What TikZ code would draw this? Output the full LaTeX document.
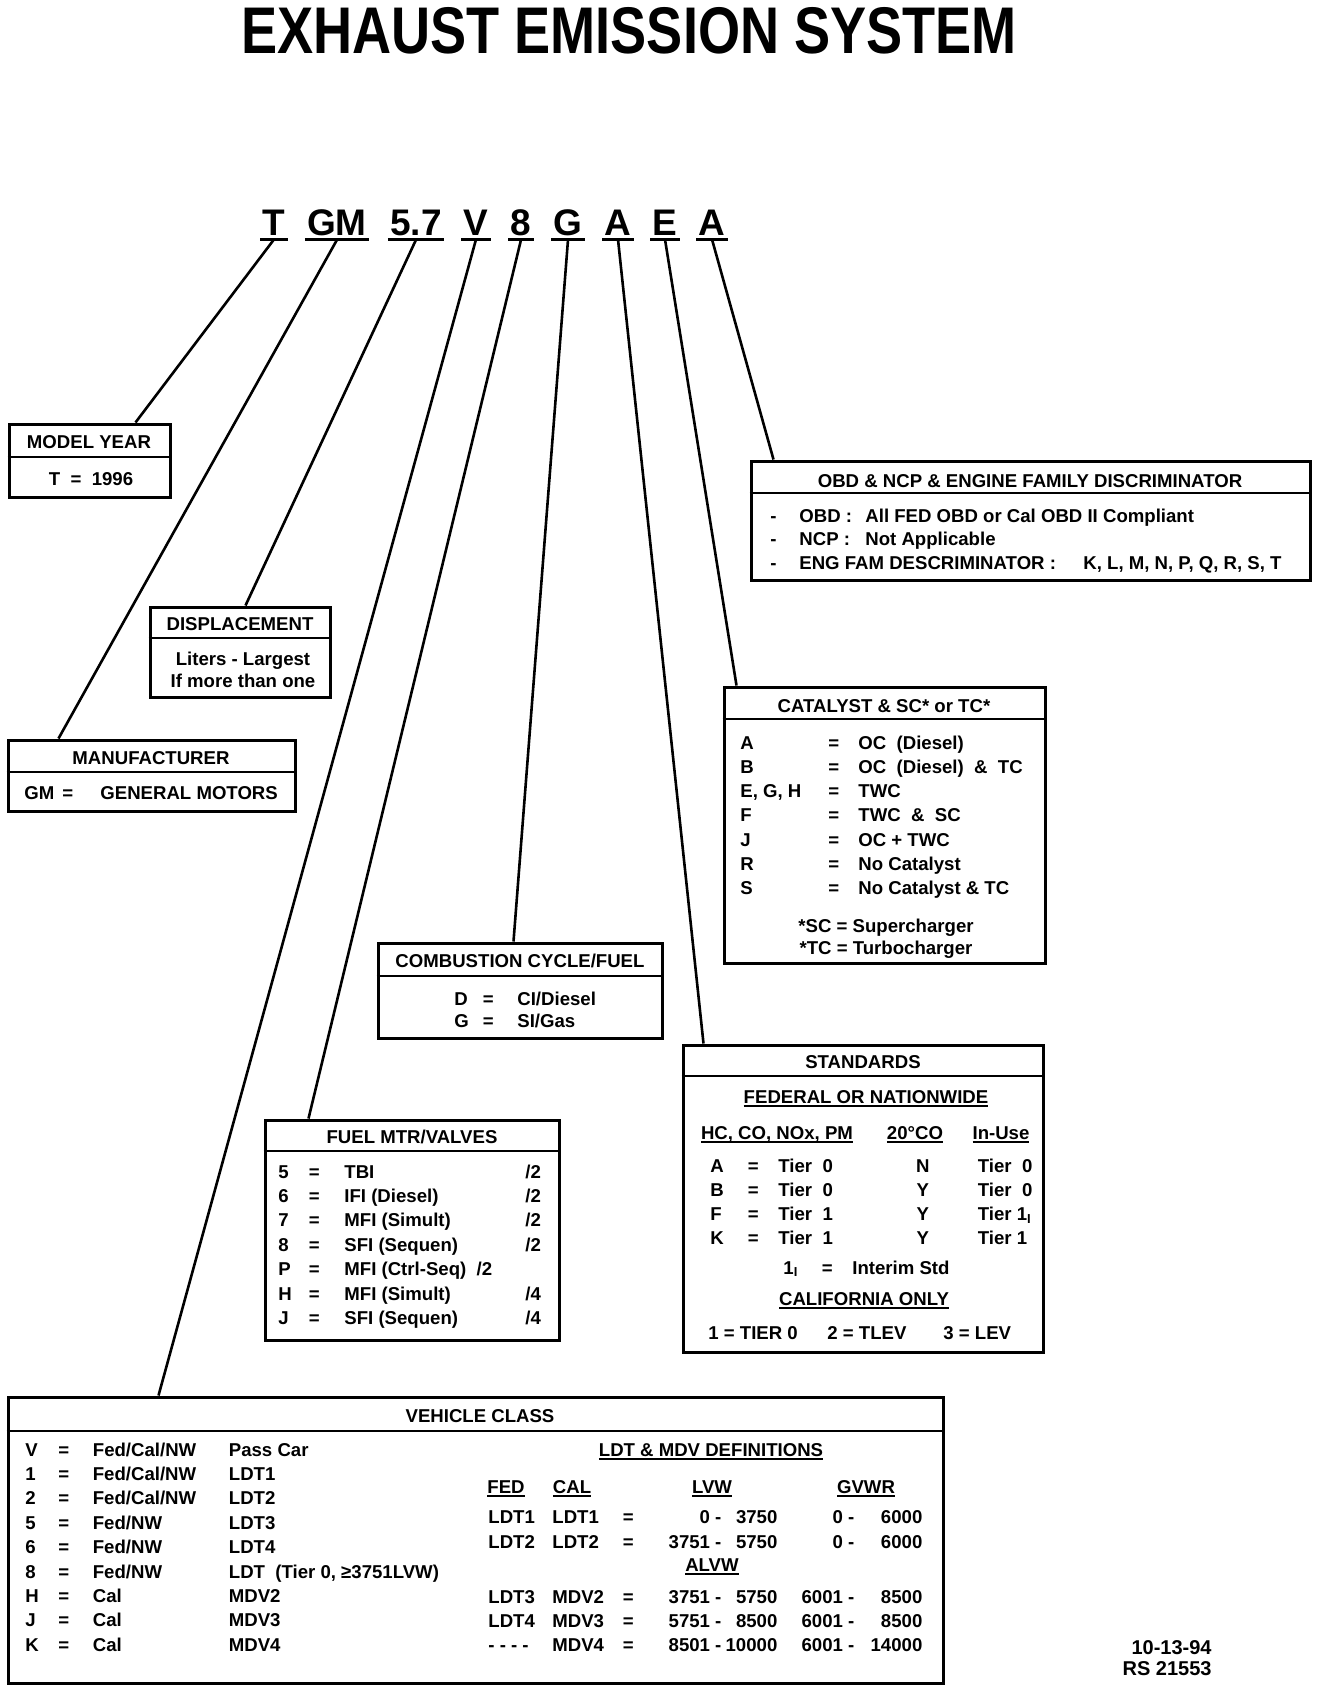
\documentclass[tikz,border=0pt]{standalone}
\usepackage{fontspec}
\setmainfont{Liberation Sans}
\usepackage{graphicx}
\usepackage{array}
\usetikzlibrary{calc, fit}

\setlength{\tabcolsep}{0pt}
\newcolumntype{R}[1]{>{\raggedleft\arraybackslash}p{#1}}
\newcommand{\ulbox}[1]{\setbox0=\hbox{#1}\rlap{\rule[-2pt]{\wd0}{1pt}}\box0}

\begin{document}
\begin{tikzpicture}[
  x=0.5pt, y=-0.5pt,
  every node/.style={font=\fontsize{9.3}{12.15}\selectfont\bfseries, inner sep=0pt},
  %% ── Box styles ──────────────────────────────────────────────────────────
  panel/.style={draw, line width=1.5pt, inner sep=0pt},
  head/.style={anchor=base},
  body/.style={anchor=base west},
  rows/.style={font=\fontsize{9.3}{#1}\selectfont\bfseries},
  %% ── Line styles ─────────────────────────────────────────────────────────
  rule/.style={line width=1pt},
  lead/.style={line width=1.3pt},
  uline/.style={line width=1.5pt},
  %% ── Text styles ─────────────────────────────────────────────────────────
  title/.style={font=\fontsize{33}{36}\selectfont\bfseries},
  code/.style={font=\fontsize{18.5}{22}\selectfont\bfseries,
    anchor=base, inner xsep=1pt, inner ysep=2pt},
]

\useasboundingbox (0,0) rectangle (1328,1692);

%% ═══════════════════════════════════════════════════════════════════════════
%% TITLE AND CODE
%% ═══════════════════════════════════════════════════════════════════════════

\node[title] (ttl) at (629,31) {\scalebox{0.82}[1]{EXHAUST EMISSION SYSTEM}};

\node[code] (cT)  at (274,235) {T};
\node[code] (cGM) at (337,235) {GM};
\node[code] (c57) at (416,235) {5.7};
\node[code] (cV)  at (476,235) {V};
\node[code] (c8)  at (521,235) {8};
\node[code] (cG)  at (568,235) {G};
\node[code] (cA)  at (618,235) {A};
\node[code] (cE)  at (665,235) {E};
\node[code] (cA2) at (712,235) {A};

\draw[uline] (cT.south west)  -- (cT.south east);
\draw[uline] (cGM.south west) -- (cGM.south east);
\draw[uline] (c57.south west) -- (c57.south east);
\draw[uline] (cV.south west)  -- (cV.south east);
\draw[uline] (c8.south west)  -- (c8.south east);
\draw[uline] (cG.south west)  -- (cG.south east);
\draw[uline] (cA.south west)  -- (cA.south east);
\draw[uline] (cE.south west)  -- (cE.south east);
\draw[uline] (cA2.south west) -- (cA2.south east);

%% ═══════════════════════════════════════════════════════════════════════════
%% LEFT BOXES
%% ═══════════════════════════════════════════════════════════════════════════

%% — Model year ──────────────────────────────────────────────────────────────
\node[panel, fit={(9,424) (170,497)}] (my) {};
\draw[rule] ($(my.north west)+(0,34)$) -- ($(my.north east)+(0,34)$);
\node[head] (myh) at (89,448) {MODEL YEAR};
\node[head] (myb) at (91,485) {T~~=~~1996};

%% — Displacement ────────────────────────────────────────────────────────────
\node[panel, fit={(150,607) (330,697)}] (disp) {};
\draw[rule] ($(disp.north west)+(0,32)$) -- ($(disp.north east)+(0,32)$);
\node[head] (disph) at (240,630) {DISPLACEMENT};
\node[head, rows=11pt] (dispb) at (243,665)
  {\begin{tabular}[t]{c}Liters - Largest\\If more than one\end{tabular}};

%% — Manufacturer ────────────────────────────────────────────────────────────
\node[panel, fit={(8,740) (295,811)}] (man) {};
\draw[rule] ($(man.north west)+(0,33)$) -- ($(man.north east)+(0,33)$);
\node[head] (manh) at (151,764) {MANUFACTURER};
\node[body] (manb) at (24,799)
  {\makebox[19pt][l]{GM}\makebox[19pt][l]{=}GENERAL MOTORS};

%% ═══════════════════════════════════════════════════════════════════════════
%% RIGHT BOXES
%% ═══════════════════════════════════════════════════════════════════════════

%% — OBD / NCP / engine family ──────────────────────────────────────────────
\node[panel, fit={(751,461) (1310,580)}] (obd) {};
\draw[rule] ($(obd.north west)+(0,33)$) -- ($(obd.north east)+(0,33)$);
\node[head] (obdh) at (1030,487) {OBD \& NCP \& ENGINE FAMILY DISCRIMINATOR};
\node[body, rows=11.75pt] (obdb) at (770,522)
  {\begin{tabular}[t]{p{14.5pt}p{33pt}l}
   - & OBD : & All FED OBD or Cal OBD II Compliant\\
   - & NCP : & Not Applicable\\
   - & \multicolumn{2}{l}{\makebox[142pt][l]{ENG FAM DESCRIMINATOR :}K, L, M, N, P, Q, R, S, T}
   \end{tabular}};

%% — Catalyst ────────────────────────────────────────────────────────────────
\node[panel, fit={(724,687) (1045,963)}] (cat) {};
\draw[rule] ($(cat.north west)+(0,33)$) -- ($(cat.north east)+(0,33)$);
\node[head] (cath) at (884,712) {CATALYST \& SC* or TC*};
\node[body, rows=12.15pt] (catb) at (740,749)
  {\begin{tabular}[t]{p{44pt}p{15pt}l}
   A & = & OC~~(Diesel)\\
   B & = & OC~~(Diesel)~~\&~~TC\\
   E, G, H & = & TWC\\
   F & = & TWC~~\&~~SC\\
   J & = & OC + TWC\\
   R & = & No Catalyst\\
   S & = & No Catalyst \& TC
   \end{tabular}};
\node[head, rows=11pt] (catn) at (886,932)
  {\begin{tabular}[t]{c}{*}SC = Supercharger\\{*}TC = Turbocharger\end{tabular}};

%% ═══════════════════════════════════════════════════════════════════════════
%% MIDDLE BOXES
%% ═══════════════════════════════════════════════════════════════════════════

%% — Combustion cycle ────────────────────────────────────────────────────────
\node[panel, fit={(378,943) (662,1038)}] (comb) {};
\draw[rule] ($(comb.north west)+(0,34)$) -- ($(comb.north east)+(0,34)$);
\node[head] (combh) at (520,967) {COMBUSTION CYCLE/FUEL};
\node[body, rows=11pt] (combb) at (454,1005)
  {\begin{tabular}[t]{p{14.25pt}p{17.25pt}l}
   D & = & CI/Diesel\\
   G & = & SI/Gas
   \end{tabular}};

%% — Fuel metering ───────────────────────────────────────────────────────────
\node[panel, fit={(265,1120) (559,1340)}] (fuel) {};
\draw[rule] ($(fuel.north west)+(0,32)$) -- ($(fuel.north east)+(0,32)$);
\node[head] (fuelh) at (412,1143) {FUEL MTR/VALVES};
\node[body, rows=12.2pt] (fuelb) at (278,1178)
  {\begin{tabular}[t]{p{15.25pt}p{17.75pt}p{90.5pt}l}
   5 & = & TBI & /2\\
   6 & = & IFI (Diesel) & /2\\
   7 & = & MFI (Simult) & /2\\
   8 & = & SFI (Sequen) & /2\\
   P & = & \multicolumn{2}{l}{MFI (Ctrl-Seq)~~/2}\\
   H & = & MFI (Simult) & /4\\
   J & = & SFI (Sequen) & /4
   \end{tabular}};

%% — Standards ───────────────────────────────────────────────────────────────
\node[panel, fit={(683,1045) (1043,1352)}] (std) {};
\draw[rule] ($(std.north west)+(0,32)$) -- ($(std.north east)+(0,32)$);
\node[head] (stdh) at (863,1068) {STANDARDS};
\node[head] (stdf) at (866,1103) {\ulbox{FEDERAL OR NATIONWIDE}};
\node[head] (stdc1) at (777,1139) {\ulbox{HC, CO, NOx, PM}};
\node[head] (stdc2) at (915,1139) {\ulbox{20°CO}};
\node[head] (stdc3) at (1001,1139) {\ulbox{In-Use}};
\node[body, rows=12.1pt] (stdb) at (710,1172)
  {\begin{tabular}[t]{p{18.75pt}p{15.25pt}p{64.75pt}p{35pt}l}
   A & = & Tier~~0 & \makebox[15pt]{N} & Tier~~0\\
   B & = & Tier~~0 & \makebox[15pt]{Y} & Tier~~0\\
   F & = & Tier~~1 & \makebox[15pt]{Y} & Tier 1\textsubscript{I}\\
   K & = & Tier~~1 & \makebox[15pt]{Y} & Tier 1
   \end{tabular}};
\node[body] (stdi) at (783,1274)
  {\makebox[19.25pt][l]{1\textsubscript{I}}\makebox[15.25pt][l]{=}Interim Std};
\node[head] (stdca) at (864,1305) {\ulbox{CALIFORNIA ONLY}};
\node[body] (stdcb) at (708,1339)
  {\makebox[59.5pt][l]{1 = TIER 0}\makebox[58pt][l]{2 = TLEV}3 = LEV};

%% ═══════════════════════════════════════════════════════════════════════════
%% VEHICLE CLASS
%% ═══════════════════════════════════════════════════════════════════════════

\node[panel, fit={(8,1397) (943,1683)}] (vc) {};
\draw[rule] ($(vc.north west)+(0,35)$) -- ($(vc.north east)+(0,35)$);
\node[head] (vch) at (480,1422) {VEHICLE CLASS};
\node[body, rows=12.2pt] (vcb) at (25,1456)
  {\begin{tabular}[t]{p{16.5pt}p{17.25pt}p{68pt}l}
   V & = & Fed/Cal/NW & Pass Car\\
   1 & = & Fed/Cal/NW & LDT1\\
   2 & = & Fed/Cal/NW & LDT2\\
   5 & = & Fed/NW & LDT3\\
   6 & = & Fed/NW & LDT4\\
   8 & = & Fed/NW & LDT~~(Tier 0, ≥3751LVW)\\
   H & = & Cal & MDV2\\
   J & = & Cal & MDV3\\
   K & = & Cal & MDV4
   \end{tabular}};

%% — LDT & MDV definitions ───────────────────────────────────────────────────
\node[head] (defh) at (711,1456) {\ulbox{LDT \& MDV DEFINITIONS}};
\node[head] (deff) at (506,1493) {\ulbox{FED}};
\node[head] (defc) at (572,1493) {\ulbox{CAL}};
\node[head] (defl) at (712,1493) {\ulbox{LVW}};
\node[head] (defg) at (866,1493) {\ulbox{GVWR}};
\node[body, rows=12.5pt] (defa) at (488,1523)
  {\begin{tabular}[t]{p{32pt}p{35.25pt}p{5.75pt}R{43.5pt}R{28pt}R{38.5pt}R{34pt}}
   LDT1 & LDT1 & = & 0 - & 3750 & 0 - & 6000\\
   LDT2 & LDT2 & = & 3751 - & 5750 & 0 - & 6000
   \end{tabular}};
\node[head] (defv) at (712,1571) {\ulbox{ALVW}};
\node[body, rows=12.2pt] (defb) at (488,1603)
  {\begin{tabular}[t]{p{32pt}p{35.25pt}p{5.75pt}R{43.5pt}R{28pt}R{38.5pt}R{34pt}}
   LDT3 & MDV2 & = & 3751 - & 5750 & 6001 - & 8500\\
   LDT4 & MDV3 & = & 5751 - & 8500 & 6001 - & 8500\\
   - - - - & MDV4 & = & 8501 - & 10000 & 6001 - & 14000
   \end{tabular}};

%% — Drawing date ────────────────────────────────────────────────────────────
\node[anchor=base east, font=\fontsize{10}{10.5}\selectfont\bfseries]
  (date) at (1212,1654)
  {\begin{tabular}[t]{r}10-13-94\\RS 21553\end{tabular}};

%% ═══════════════════════════════════════════════════════════════════════════
%% LEADER LINES
%% ═══════════════════════════════════════════════════════════════════════════

\draw[lead] (cT.south)  -- ($(my.north west)+(128,0)$);
\draw[lead] (cGM.south) -- ($(man.north west)+(52,0)$);
\draw[lead] (c57.south) -- ($(disp.north west)+(97,0)$);
\draw[lead] (cV.south)  -- ($(vc.north west)+(152,0)$);
\draw[lead] (c8.south)  -- ($(fuel.north west)+(45,0)$);
\draw[lead] (cG.south)  -- ($(comb.north west)+(137,0)$);
\draw[lead] (cA.south)  -- ($(std.north west)+(22,0)$);
\draw[lead] (cE.south)  -- ($(cat.north west)+(14,0)$);
\draw[lead] (cA2.south) -- ($(obd.north west)+(24,0)$);

\end{tikzpicture}
\end{document}
